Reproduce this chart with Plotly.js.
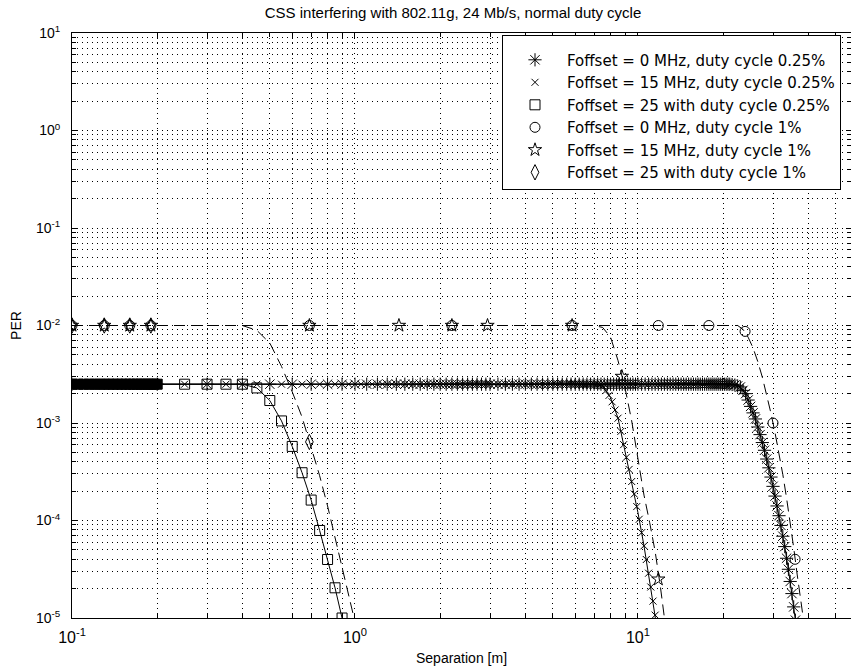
<!DOCTYPE html>
<html>
<head>
<meta charset="utf-8">
<script src="https://cdn.plot.ly/plotly-3.0.1.min.js"></script>
<style>html,body{margin:0;padding:0;background:#fff}#chart{width:851px;height:672px}</style>
</head>
<body>
<div id="chart"></div>
<script>
// ---------- data ----------
const legendNames = [
  'Foffset = 0 MHz, duty cycle 0.25%',
  'Foffset = 15 MHz, duty cycle 0.25%',
  'Foffset = 25 with duty cycle 0.25%',
  'Foffset = 0 MHz, duty cycle 1%',
  'Foffset = 15 MHz, duty cycle 1%',
  'Foffset = 25 with duty cycle 1%'
];

// curves (lines)
const line0q_x = [0.1, 21, 22, 23, 24, 25, 26, 27, 28, 29, 30, 31, 32, 33, 34, 35, 36];
const line0q_y = [0.0025, 0.0025, 0.00245, 0.00234, 0.0020, 0.00148, 0.00110, 0.00076, 0.000525, 0.000347, 0.000224, 0.000141, 0.000089, 0.000054, 0.0000316, 0.0000178, 0.0000095];
const line15q_x = [0.1, 7.0, 7.5, 8.0, 8.5, 9.0, 9.5, 10.0, 10.5, 11.0, 11.5, 11.6];
const line15q_y = [0.0025, 0.0025, 0.0024, 0.00182, 0.00112, 0.000513, 0.000251, 0.00012, 0.000055, 0.0000245, 0.0000107, 0.0000088];
const line25q_x = [0.1, 0.4, 0.45, 0.5, 0.55, 0.6, 0.65, 0.7, 0.75, 0.8, 0.85, 0.9, 0.92];
const line25q_y = [0.0025, 0.0025, 0.00229, 0.0017, 0.00105, 0.000575, 0.000309, 0.000162, 0.000079, 0.0000398, 0.0000204, 0.00001, 0.0000078];
const line0p_x = [0.1, 22.5, 23.5, 24.5, 25.5, 26.5, 27.5, 28.5, 29.5, 30.5, 31.5, 32.5, 33.5, 34.5, 35.5, 36.5, 37.5, 38.5];
const line0p_y = [0.01, 0.01, 0.00912, 0.00759, 0.00589, 0.00427, 0.00295, 0.00195, 0.00126, 0.000794, 0.00049, 0.000295, 0.00017, 0.000098, 0.0000525, 0.0000282, 0.0000158, 0.0000093];
const line15p_x = [0.1, 7.0, 7.5, 8.0, 8.5, 9.0, 9.5, 10.0, 10.5, 11.0, 11.5, 12.0, 12.4];
const line15p_y = [0.01, 0.01, 0.00955, 0.00759, 0.00437, 0.00229, 0.00105, 0.000417, 0.000182, 0.000095, 0.0000479, 0.0000209, 0.00001];
const line25p_x = [0.1, 0.40, 0.45, 0.50, 0.55, 0.60, 0.65, 0.70, 0.75, 0.80, 0.85, 0.90, 0.95, 1.0];
const line25p_y = [0.01, 0.01, 0.00891, 0.00661, 0.0038, 0.00209, 0.00115, 0.000575, 0.000288, 0.000141, 0.0000676, 0.0000324, 0.0000166, 0.0000091];

// markers
const mark0q_x = [0.1,0.2,0.3,0.4,0.5,0.6,0.7,0.8,0.9,1.0,1.1,1.2,1.3,1.4,1.5,1.6,1.7,1.8,1.9,2.0,
  2.1,2.2,2.3,2.4,2.5,2.6,2.7,2.8,2.9,3.0,
  3.2,3.4,3.6,3.8,4.0,4.2,4.4,4.6,4.8,5.0,5.2,5.4,5.6,5.8,6.0,6.2,6.4,6.6,6.8,7.0,
  7.2,7.4,7.6,7.8,8.0,8.2,8.4,8.6,8.8,9.0,9.2,9.4,9.6,9.8,10.0,
  10.3,10.6,10.9,11.2,11.5,11.8,12.1,12.4,12.7,13.0,13.3,13.6,13.9,14.2,14.5,14.8,15.1,15.4,15.7,16.0,
  16.3,16.6,16.9,17.2,17.5,17.8,18.1,18.4,18.7,19.0,19.3,19.6,19.9,20.2,20.5,20.8,21.1,
  21.5,22.0,22.5,23.0,23.5,24.0,24.5,25.0,25.5,26.0,26.5,27.0,27.5,28.0,28.5,29.0,29.5,30.0,
  30.5,31.0,31.5,32.0,32.5,33.0,33.5,34.0,34.5,35.0,35.5,36.0];
const mark0q_y = [0.0025,0.0025,0.0025,0.0025,0.0025,0.0025,0.0025,0.0025,0.0025,0.0025,0.0025,0.0025,0.0025,0.0025,0.0025,0.0025,0.0025,0.0025,0.0025,0.0025,
  0.0025,0.0025,0.0025,0.0025,0.0025,0.0025,0.0025,0.0025,0.0025,0.0025,
  0.0025,0.0025,0.0025,0.0025,0.0025,0.0025,0.0025,0.0025,0.0025,0.0025,0.0025,0.0025,0.0025,0.0025,0.0025,0.0025,0.0025,0.0025,0.0025,0.0025,
  0.0025,0.0025,0.0025,0.0025,0.0025,0.0025,0.0025,0.0025,0.0025,0.0025,0.0025,0.0025,0.0025,0.0025,0.0025,
  0.0025,0.0025,0.0025,0.0025,0.0025,0.0025,0.0025,0.0025,0.0025,0.0025,0.0025,0.0025,0.0025,0.0025,0.0025,0.0025,0.0025,0.0025,0.0025,0.0025,
  0.0025,0.0025,0.0025,0.0025,0.0025,0.0025,0.0025,0.0025,0.0025,0.0025,0.0025,0.0025,0.0025,0.0025,0.0025,0.0025,0.0025,
  0.00248,0.00245,0.0024,0.00234,0.00216,0.0020,0.00172,0.00148,0.00127,0.0011,0.00091,0.00076,0.00063,0.000525,0.000427,0.000347,0.000279,0.000224,
  0.000178,0.000141,0.000112,0.000089,0.000069,0.000054,0.000041,0.0000316,0.0000237,0.0000178,0.000013,0.0000095];

const mark15q_x = [0.25,0.35,0.45,0.55,0.65,0.75,0.85,0.95,1.05,1.15,1.25,1.35,1.45,1.55,1.65,1.75,1.85,1.95,2.05,2.15,
  2.25,2.35,2.45,2.55,2.65,2.75,2.85,2.95,
  3.1,3.3,3.5,3.7,3.9,4.1,4.3,4.5,4.7,4.9,5.1,5.3,5.5,5.7,5.9,6.1,6.3,6.5,6.7,6.9,
  7.1,7.3,7.5,7.7,7.9,8.1,8.3,8.5,8.7,8.9,9.1,9.3,9.5,9.7,9.9,10.1,10.3,10.5,10.7,10.9,11.1,11.3,11.5];
const mark15q_y = [0.0025,0.0025,0.0025,0.0025,0.0025,0.0025,0.0025,0.0025,0.0025,0.0025,0.0025,0.0025,0.0025,0.0025,0.0025,0.0025,0.0025,0.0025,0.0025,0.0025,
  0.0025,0.0025,0.0025,0.0025,0.0025,0.0025,0.0025,0.0025,
  0.0025,0.0025,0.0025,0.0025,0.0025,0.0025,0.0025,0.0025,0.0025,0.0025,0.0025,0.0025,0.0025,0.0025,0.0025,0.0025,0.0025,0.0025,0.0025,0.0025,
  0.00249,0.00244,0.0024,0.00215,0.00192,0.00165,0.00136,0.00112,0.00082,0.0006,0.000445,0.000334,0.000251,0.000187,0.000139,0.000103,0.000075,0.000055,0.0000398,0.0000288,0.0000208,0.0000149,0.0000107];

// dense sampling of the 25 MHz / 0.25% run at the left edge (drawn as overlapping squares)
const mark25qDense_x = [0.100,0.105,0.110,0.115,0.120,0.125,0.130,0.135,0.140,0.145,0.150,0.155,0.160,0.165,0.170,0.175,0.180,0.185,0.190,0.195,0.200];
const mark25qDense_y = [0.0025,0.0025,0.0025,0.0025,0.0025,0.0025,0.0025,0.0025,0.0025,0.0025,0.0025,0.0025,0.0025,0.0025,0.0025,0.0025,0.0025,0.0025,0.0025,0.0025,0.0025];
const mark25q_x = [0.25,0.3,0.35,0.4,0.45,0.5,0.55,0.6,0.65,0.7,0.75,0.8,0.85,0.9];
const mark25q_y = [0.0025,0.0025,0.0025,0.0025,0.00229,0.0017,0.00105,0.000575,0.000309,0.000162,0.000079,0.0000398,0.0000204,0.00001];

const mark0p_x = [0.1,0.13,0.16,0.19,0.69,2.2,5.85,11.8,17.8,23.9,30.0,35.9];
const mark0p_y = [0.01,0.01,0.01,0.01,0.01,0.01,0.01,0.01,0.01,0.0087,0.001,0.00004];
const mark15p_x = [0.1,0.13,0.16,0.19,0.69,1.43,2.2,2.94,5.85,8.77,11.8];
const mark15p_y = [0.01,0.01,0.01,0.01,0.01,0.01,0.01,0.01,0.01,0.003,0.000025];
const mark25p_x = [0.1,0.13,0.16,0.19,0.69];
const mark25p_y = [0.01,0.01,0.01,0.01,0.00064];

const xTickVals = [0.1, 1, 10];
const xTickText = ['10<sup>-1</sup>', '10<sup>0</sup>', '10<sup>1</sup>'];
const yTickVals = [1e-5, 1e-4, 1e-3, 1e-2, 1e-1, 1, 10];
const yTickText = ['10<sup>-5</sup>', '10<sup>-4</sup>', '10<sup>-3</sup>', '10<sup>-2</sup>', '10<sup>-1</sup>', '10<sup>0</sup>', '10<sup>1</sup>'];

// ---------- minor tick positions (2..9 in each decade) ----------
function minorTicks(lo, hi) {
  const out = [];
  for (let e = lo; e <= hi; e++) for (let m = 2; m <= 9; m++) out.push(m * Math.pow(10, e));
  return out;
}

const K = '#000000';
const solid = {color: K, width: 1};
const dashed = {color: K, width: 1, dash: '11px,6px'};

function lineTrace(x, y, ln) {
  return {x: x, y: y, type: 'scatter', mode: 'lines', line: ln, showlegend: false, hoverinfo: 'skip'};
}
function markTrace(x, y, name, symbol, size, grp) {
  return {x: x, y: y, type: 'scatter', mode: 'markers', name: name, legendgroup: grp,
    marker: {symbol: symbol, size: size, color: K, line: {color: K, width: 1}}};
}

const traces = [
  lineTrace(line0q_x, line0q_y, solid),
  lineTrace(line15q_x, line15q_y, solid),
  lineTrace(line25q_x, line25q_y, solid),
  lineTrace(line0p_x, line0p_y, dashed),
  lineTrace(line15p_x, line15p_y, dashed),
  lineTrace(line25p_x, line25p_y, dashed),
  Object.assign(markTrace(mark25qDense_x, mark25qDense_y, legendNames[2], 'square', 10, 'g3'), {showlegend: false}),
  markTrace(mark0q_x, mark0q_y, legendNames[0], 'asterisk-open', 11, 'g1'),
  markTrace(mark15q_x, mark15q_y, legendNames[1], 'x-thin-open', 7, 'g2'),
  markTrace(mark25q_x, mark25q_y, legendNames[2], 'square-open', 10, 'g3'),
  markTrace(mark0p_x, mark0p_y, legendNames[3], 'circle-open', 10, 'g4'),
  markTrace(mark15p_x, mark15p_y, legendNames[4], 'star-open', 10, 'g5'),
  markTrace(mark25p_x, mark25p_y, legendNames[5], 'diamond-tall-open', 11, 'g6')
];

const FAM = 'Liberation Sans, Arial, sans-serif';
const gridDash = '1px,4px';

const layout = {
  width: 851, height: 672,
  margin: {l: 72, r: 0, t: 33, b: 54, pad: 0},
  paper_bgcolor: '#fff', plot_bgcolor: '#fff',
  font: {family: FAM, size: 14, color: K},
  title: {text: 'CSS interfering with 802.11g, 24 Mb/s, normal duty cycle',
    font: {family: FAM, size: 15, color: K},
    x: 453 / 851, xanchor: 'center', xref: 'container', y: 1 - 13 / 672, yanchor: 'middle', yref: 'container'},
  xaxis: {
    type: 'log', range: [-1, 1.7527], tickmode: 'array', tickvals: xTickVals, ticktext: xTickText,
    ticks: 'inside', ticklen: 5, tickcolor: K, showline: true, linecolor: K, linewidth: 1, mirror: 'ticks',
    showgrid: true, gridcolor: K, gridwidth: 1, griddash: gridDash, zeroline: false,
    tickfont: {family: FAM, size: 16, color: K}, ticklabelstandoff: 5,
    minor: {tickmode: 'array', tickvals: minorTicks(-1, 1), ticks: 'inside', ticklen: 4, tickcolor: K,
      showgrid: true, gridcolor: K, gridwidth: 1, griddash: gridDash},
    title: {text: 'Separation [m]', font: {family: FAM, size: 14, color: K}, standoff: 7}
  },
  yaxis: {
    type: 'log', range: [-5, 1], tickmode: 'array', tickvals: yTickVals, ticktext: yTickText,
    ticks: 'inside', ticklen: 5, tickcolor: K, showline: true, linecolor: K, linewidth: 1, mirror: 'ticks',
    showgrid: true, gridcolor: K, gridwidth: 1, griddash: gridDash, zeroline: false,
    tickfont: {family: FAM, size: 14, color: K}, ticklabelstandoff: 8,
    minor: {tickmode: 'array', tickvals: minorTicks(-5, 0), ticks: 'inside', ticklen: 4, tickcolor: K,
      showgrid: true, gridcolor: K, gridwidth: 1, griddash: gridDash},
    title: {text: 'PER', font: {family: FAM, size: 14, color: K}, standoff: 11}
  },
  legend: {
    x: (502 - 72) / 779, xanchor: 'left', y: 0.997, yanchor: 'top',
    bgcolor: '#fff', bordercolor: K, borderwidth: 1,
    font: {family: 'DejaVu Sans, sans-serif', size: 15, color: K},
    title: {text: '\u00a0', font: {family: FAM, size: 6, color: K}},
    itemwidth: 54, tracegroupgap: 4, traceorder: 'normal',
    entrywidth: 300, entrywidthmode: 'pixels'
  },
  showlegend: true
};

Plotly.newPlot('chart', traces, layout, {staticPlot: true, displayModeBar: false});
</script>
</body>
</html>
